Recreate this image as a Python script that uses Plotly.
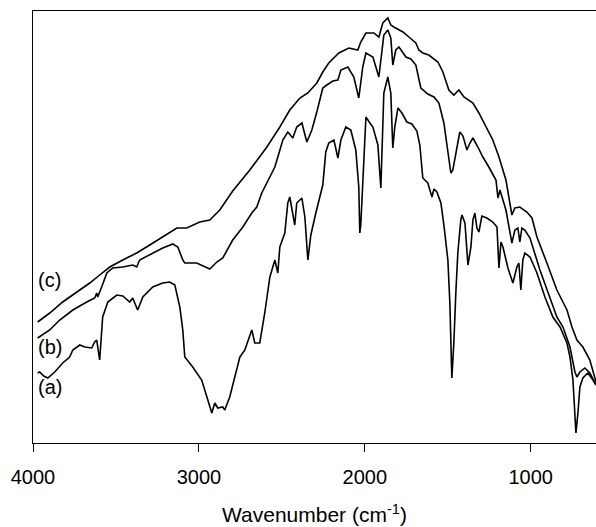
import plotly.graph_objects as go

# IR spectra (a), (b), (c): wavenumber (cm-1) vs transmittance (arb. units, offset)
wn_a = [3972, 3960, 3935, 3911, 3869, 3821, 3779, 3760, 3718, 3688, 3646, 3628, 3616, 3598,
        3580, 3549, 3495, 3459, 3417, 3399, 3369, 3338, 3278, 3218, 3176, 3145, 3115, 3097,
        3085, 3037, 2983, 2946, 2922, 2904, 2886, 2856, 2844, 2814, 2753, 2723, 2681, 2663,
        2633, 2603, 2572, 2542, 2524, 2512, 2482, 2464, 2452, 2422, 2410, 2379, 2361, 2343,
        2325, 2295, 2265, 2253, 2235, 2217, 2186, 2162, 2144, 2114, 2084, 2054, 2036, 2030,
        2024, 2012, 1993, 1969, 1951, 1921, 1903, 1885, 1861, 1843, 1831, 1819, 1800, 1776,
        1746, 1716, 1686, 1668, 1650, 1620, 1595, 1583, 1565, 1541, 1523, 1499, 1487, 1475,
        1463, 1451, 1439, 1421, 1414, 1396, 1384, 1378, 1360, 1348, 1336, 1324, 1312, 1294,
        1264, 1228, 1203, 1191, 1179, 1167, 1137, 1107, 1083, 1071, 1059, 1047, 1035, 1004,
        962, 914, 866, 823, 781, 763, 745, 727, 715, 703, 685, 655, 624, 606]
t_a = [70, 71, 67, 65, 71, 80, 86, 93, 98, 96, 95, 101, 103, 83,
       126, 141, 148, 147, 141, 145, 133, 146, 156, 160, 161, 158, 136, 113,
       86, 76, 63, 43, 30, 40, 35, 36, 33, 46, 86, 93, 113, 100,
       100, 130, 166, 183, 170, 196, 210, 240, 246, 218, 240, 245, 226, 183,
       208, 230, 250, 258, 291, 300, 303, 285, 303, 316, 313, 293, 256, 210,
       218, 256, 326, 320, 316, 298, 255, 350, 366, 350, 295, 316, 335, 330,
       321, 319, 312, 298, 265, 260, 246, 254, 251, 240, 218, 183, 140, 65,
       100, 150, 190, 223, 228, 220, 183, 178, 196, 223, 230, 215, 211, 227,
       225, 221, 216, 175, 201, 196, 175, 160, 176, 180, 153, 183, 190, 186,
       170, 146, 126, 116, 100, 86, 63, 10, 30, 56, 65, 70, 63, 58]

wn_b = [3972, 3899, 3839, 3760, 3676, 3628, 3616, 3610, 3586, 3555, 3519, 3459, 3399, 3375,
        3357, 3296, 3218, 3157, 3127, 3097, 3085, 3013, 2952, 2934, 2892, 2856, 2796, 2735,
        2681, 2651, 2621, 2572, 2542, 2524, 2494, 2464, 2434, 2410, 2379, 2349, 2319, 2289,
        2271, 2253, 2229, 2192, 2162, 2144, 2102, 2066, 2036, 2012, 1993, 1951, 1915, 1885,
        1861, 1843, 1831, 1813, 1794, 1752, 1722, 1692, 1662, 1620, 1583, 1553, 1523, 1499,
        1481, 1469, 1445, 1427, 1408, 1384, 1366, 1348, 1318, 1288, 1252, 1209, 1197, 1185,
        1149, 1113, 1095, 1077, 1065, 1053, 1035, 1004, 944, 896, 842, 805, 763, 733,
        721, 703, 673, 643, 606]
t_b = [105, 113, 123, 133, 141, 145, 150, 146, 156, 170, 175, 176, 178, 176,
       183, 188, 195, 199, 196, 183, 180, 180, 175, 174, 181, 185, 203, 216,
       230, 236, 250, 266, 276, 286, 303, 311, 305, 316, 320, 301, 313, 331,
       343, 355, 358, 362, 363, 373, 376, 366, 345, 376, 390, 386, 366, 408,
       413, 405, 378, 393, 396, 386, 384, 378, 355, 349, 346, 340, 320, 293,
       270, 273, 296, 311, 307, 293, 300, 305, 296, 286, 276, 263, 245, 253,
       233, 200, 213, 215, 201, 215, 213, 205, 173, 150, 126, 116, 96, 71,
       66, 71, 75, 70, 58]

wn_c = [3972, 3899, 3821, 3736, 3658, 3598, 3537, 3459, 3375, 3296, 3218, 3176, 3133, 3073,
        2995, 2934, 2874, 2796, 2693, 2590, 2512, 2452, 2391, 2343, 2289, 2253, 2217, 2156,
        2096, 2042, 2024, 1993, 1945, 1915, 1891, 1861, 1843, 1825, 1770, 1734, 1692, 1674,
        1650, 1614, 1559, 1529, 1493, 1463, 1433, 1402, 1348, 1312, 1270, 1228, 1191, 1149,
        1113, 1095, 1065, 1023, 992, 962, 902, 842, 781, 751, 721, 685, 643, 606]
t_c = [121, 130, 141, 151, 160, 168, 176, 183, 190, 198, 206, 211, 215, 215,
       221, 223, 233, 252, 273, 296, 316, 333, 345, 350, 360, 371, 380, 390,
       395, 393, 401, 410, 410, 406, 420, 425, 418, 416, 411, 406, 400, 393,
       390, 388, 381, 371, 353, 348, 353, 346, 340, 330, 316, 303, 286, 263,
       228, 235, 236, 231, 225, 206, 180, 153, 133, 116, 103, 96, 83, 61]

# curve labels: (text, wavenumber, transmittance)
labels = ["(c)", "(b)", "(a)"]
label_wn = [3899, 3899, 3899]
label_t = [163, 96, 56]

x_ticks = [4000, 3000, 2000, 1000]

FONT = "Liberation Sans, Arial"

fig = go.Figure()
for wn, t in [(wn_a, t_a), (wn_b, t_b), (wn_c, t_c)]:
    fig.add_trace(go.Scatter(x=wn, y=t, mode="lines",
                             line=dict(color="black", width=1.6),
                             showlegend=False, hoverinfo="skip"))

for txt, xw, yt in zip(labels, label_wn, label_t):
    fig.add_annotation(x=xw, y=yt, xref="x", yref="y", text=txt, showarrow=False,
                       font=dict(family=FONT, size=20, color="black"))

fig.update_layout(
    width=596, height=527,
    margin=dict(l=33, r=0, t=11, b=84),
    paper_bgcolor="white", plot_bgcolor="white",
    font=dict(family=FONT, color="black"),
    xaxis=dict(
        range=[4000, 606], tickvals=x_ticks, ticktext=[str(v) for v in x_ticks],
        showgrid=False, zeroline=False,
        showline=True, linecolor="black", linewidth=1.3, mirror=True,
        ticks="outside", ticklen=8, tickwidth=1, tickcolor="black",
        ticklabelstandoff=8,
        tickfont=dict(size=20, family=FONT, color="black"),
        title=dict(text="Wavenumber (cm<sup>-1</sup>)", standoff=20,
                   font=dict(size=21, family=FONT, color="black")),
        automargin=False,
    ),
    yaxis=dict(
        range=[0, 432], showticklabels=False, ticks="", showgrid=False, zeroline=False,
        showline=True, linecolor="black", linewidth=1.3,
    ),
)

fig.write_html("out.html")
